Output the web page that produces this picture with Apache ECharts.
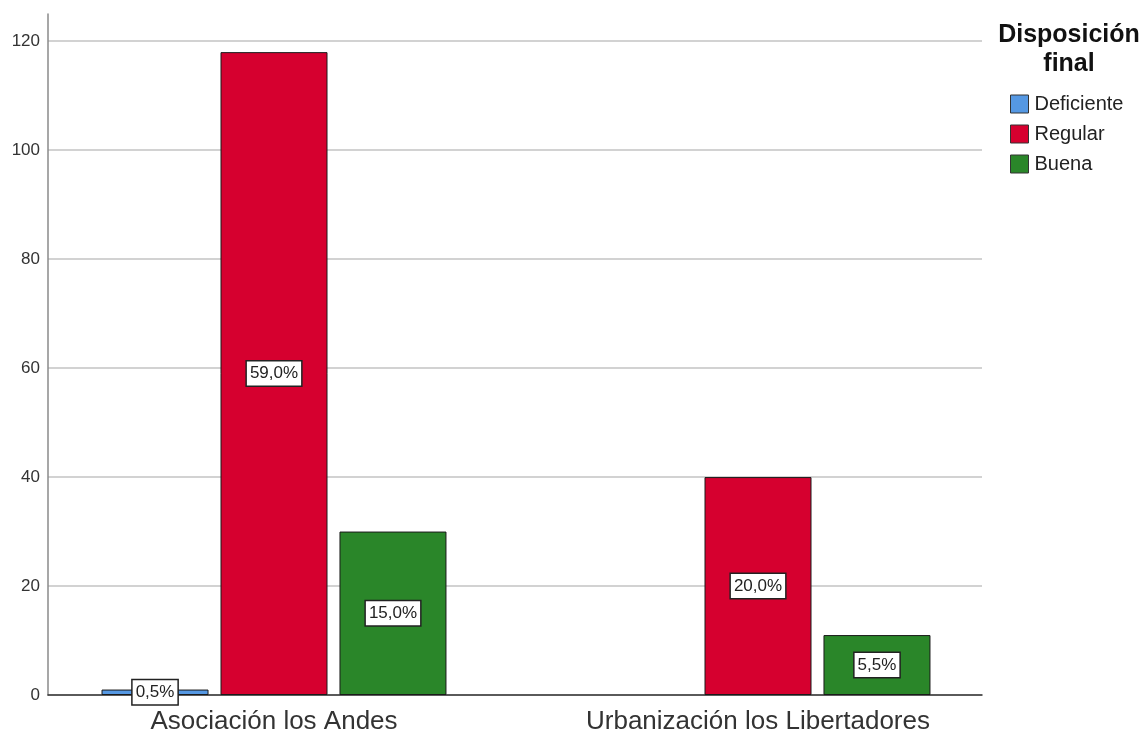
<!DOCTYPE html>
<html>
<head>
<meta charset="utf-8">
<script src="https://cdn.jsdelivr.net/npm/echarts@6/dist/echarts.min.js"></script>
<style>
  html, body { margin: 0; padding: 0; background: #fff; }
  #chart { width: 1148px; height: 736px; }
</style>
</head>
<body>
<div id="chart"></div>
<script>
// Counts by neighbourhood and final disposition
const categories = ['Asociación los Andes', 'Urbanización los Libertadores'];
const seriesNames = ['Deficiente', 'Regular', 'Buena'];
const deficiente = [1, 0];
const regular = [118, 40];
const buena = [30, 11];
const totalCount = 200;
const yTicks = [0, 20, 40, 60, 80, 100, 120];

const colors = ['#5598e3', '#d6002f', '#2a8629'];
const values = [deficiente, regular, buena];

const font = 'Liberation Sans, Arial, sans-serif';
const yMax = 125;

function pctLabel(v) {
  return (v / totalCount * 100).toFixed(1).replace('.', ',') + '%';
}

const barSeries = seriesNames.map((name, i) => ({
  name: name,
  type: 'bar',
  xAxisIndex: 0,
  yAxisIndex: 0,
  barWidth: 107,
  barGap: '11.2%',
  data: values[i].map(v => (v === 0 ? null : v)),
  itemStyle: { color: colors[i], borderColor: '#1a1a1a', borderWidth: 1 },
  label: {
    show: true,
    position: 'inside',
    formatter: p => pctLabel(p.value),
    fontFamily: font,
    fontSize: 17,
    color: '#222',
    backgroundColor: '#fff',
    borderColor: '#222',
    borderWidth: 1.5,
    padding: [4, 3, 3, 3]
  },
  emphasis: { disabled: true },
  animation: false
}));

const chart = echarts.init(document.getElementById('chart'));
chart.setOption({
  animation: false,
  title: {
    text: 'Disposición\nfinal',
    left: 1069,
    textAlign: 'center',
    top: 21,
    padding: 0,
    textStyle: { fontFamily: font, fontSize: 25, fontWeight: 'bold', color: '#111', lineHeight: 29 }
  },
  legend: {
    orient: 'vertical',
    left: 1010,
    top: 94,
    padding: 0,
    itemWidth: 18,
    itemHeight: 18,
    itemGap: 10,
    icon: 'rect',
    data: seriesNames,
    textStyle: { fontFamily: font, fontSize: 20, color: '#222', padding: [0, 0, 0, 1] },
    itemStyle: { borderColor: '#333', borderWidth: 1 }
  },
  grid: [
    // bars
    { left: 32, right: 148, top: 14, bottom: 41 },
    // gridlines and axes
    { left: 48, right: 166, top: 14, bottom: 41 }
  ],
  xAxis: [
    {
      type: 'category',
      gridIndex: 0,
      data: categories,
      axisLine: { show: false },
      axisTick: { show: false },
      axisLabel: { fontFamily: font, fontSize: 26, color: '#333', margin: 14 }
    },
    {
      type: 'category',
      gridIndex: 1,
      data: categories,
      axisLine: { show: true, lineStyle: { color: '#333', width: 1.5 } },
      axisTick: { show: false },
      axisLabel: { show: false }
    }
  ],
  yAxis: [
    {
      type: 'value',
      gridIndex: 0,
      min: 0,
      max: yMax,
      show: false
    },
    {
      type: 'value',
      gridIndex: 1,
      min: 0,
      max: yMax,
      interval: 20,
      axisLine: { show: true, lineStyle: { color: '#8a8a8a', width: 1.5 } },
      axisTick: { show: false },
      splitLine: { show: true, showMaxLine: false, lineStyle: { color: '#d2d2d2', width: 2 } },
      axisLabel: {
        fontFamily: font,
        fontSize: 17,
        color: '#333',
        margin: 8,
        formatter: v => (yTicks.indexOf(v) >= 0 ? String(v) : '')
      }
    }
  ],
  series: barSeries
});
</script>
</body>
</html>
